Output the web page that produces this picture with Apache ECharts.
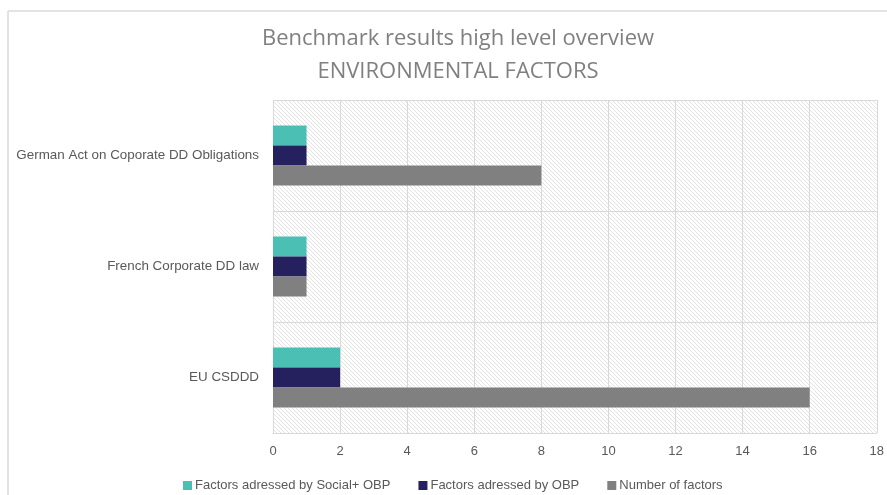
<!DOCTYPE html>
<html>
<head>
<meta charset="utf-8">
<script src="https://cdn.jsdelivr.net/npm/echarts@6/dist/echarts.min.js"></script>
<style>
  html, body { margin: 0; padding: 0; background: #fff; }
  #chart { width: 887px; height: 495px; }
</style>
</head>
<body>
<div id="chart"></div>
<script>
// Categories, listed bottom-to-top along the vertical axis
const categories = ['EU CSDDD', 'French Corporate DD law', 'German Act on Coporate DD Obligations'];

// Series values per category
const socialObp = [2, 1, 1];
const obp = [2, 1, 1];
const numberOfFactors = [16, 1, 8];

const seriesNames = ['Factors adressed by Social+ OBP', 'Factors adressed by OBP', 'Number of factors'];
const xTicks = { min: 0, max: 18, interval: 2 };

// Light diagonal hatch used as the plot-area fill
function makeHatch() {
  const c = document.createElement('canvas');
  c.width = 4; c.height = 4;
  const g = c.getContext('2d');
  g.fillStyle = '#ffffff';
  g.fillRect(0, 0, 4, 4);
  g.strokeStyle = '#e2e2e2';
  g.lineWidth = 1;
  g.beginPath();
  g.moveTo(0, 0); g.lineTo(4, 4);
  g.moveTo(-1, 3); g.lineTo(1, 5);
  g.moveTo(3, -1); g.lineTo(5, 1);
  g.stroke();
  return c;
}

const chart = echarts.init(document.getElementById('chart'), null, { renderer: 'canvas' });
const textColor = '#595959';
const gridColor = '#d9d9d9';
const font = "'Liberation Sans', sans-serif";

chart.setOption({
  backgroundColor: '#ffffff',
  animation: false,
  title: {
    text: 'Benchmark results high level overview\nENVIRONMENTAL FACTORS',
    left: 453,
    textAlign: 'center',
    top: 17,
    textStyle: {
      color: '#808080',
      fontFamily: "'Open Sans', sans-serif",
      fontWeight: 'normal',
      fontSize: 22,
      lineHeight: 33
    }
  },
  graphic: [
    { type: 'line', shape: { x1: 8, y1: 11, x2: 887, y2: 11 }, style: { stroke: '#e3e3e3', lineWidth: 2 } },
    { type: 'line', shape: { x1: 8, y1: 11, x2: 8, y2: 495 }, style: { stroke: '#e3e3e3', lineWidth: 2 } }
  ],
  legend: {
    left: 178,
    top: 474,
    icon: 'rect',
    itemWidth: 9,
    itemHeight: 9,
    itemGap: 28,
    textStyle: { color: textColor, fontSize: 13, fontFamily: font, padding: [0, 0, 0, -2] },
    data: seriesNames
  },
  grid: {
    left: 273,
    right: 10,
    top: 100,
    bottom: 62,
    show: true,
    borderWidth: 0,
    backgroundColor: { image: makeHatch(), repeat: 'repeat' }
  },
  xAxis: {
    type: 'value',
    min: xTicks.min,
    max: xTicks.max,
    interval: xTicks.interval,
    axisLine: { show: true, lineStyle: { color: gridColor } },
    axisTick: { show: false },
    axisLabel: { color: textColor, fontSize: 13, fontFamily: font, margin: 12 },
    splitLine: { show: true, lineStyle: { color: gridColor, width: 1 } }
  },
  yAxis: {
    type: 'category',
    data: categories,
    axisLine: { show: false },
    axisTick: { show: false },
    axisLabel: { color: textColor, fontSize: 13.4, fontFamily: font, margin: 14 },
    splitLine: { show: true, lineStyle: { color: gridColor, width: 1 } }
  },
  series: [
    { name: seriesNames[0], type: 'bar', data: socialObp, barWidth: 20, barGap: '0%', itemStyle: { color: '#4bbfb4' } },
    { name: seriesNames[1], type: 'bar', data: obp, barWidth: 20, barGap: '0%', itemStyle: { color: '#25215f' } },
    { name: seriesNames[2], type: 'bar', data: numberOfFactors, barWidth: 20, barGap: '0%', itemStyle: { color: '#808080' } }
  ]
});
</script>
</body>
</html>
